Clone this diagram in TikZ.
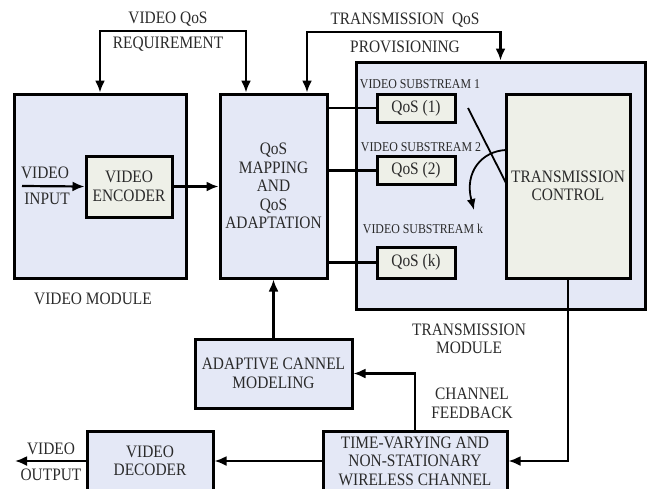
\documentclass[tikz,border=0pt]{standalone}
\usepackage{fontspec}
\setmainfont{Liberation Serif}[FakeStretch=0.88]
\usetikzlibrary{arrows.meta}
\definecolor{blu}{HTML}{E4E8F6}
\definecolor{grn}{HTML}{EEF0E8}
\definecolor{txt}{HTML}{2A2A2A}
\tikzset{
  every node/.style={text=txt, font=\fontsize{17.5}{18.5}\selectfont},
  blk/.style={draw=black, line width=3pt, fill=blu, inner sep=0pt, align=center},
  inr/.style={draw=black, line width=3pt, fill=grn, inner sep=0pt, align=center},
  lbl/.style={inner sep=0pt, align=center},
  sml/.style={inner sep=0pt, font=\fontsize{13.5}{15}\selectfont},
  wire/.style={draw=black, line width=2.2pt},
  arr/.style={wire, -{Latex[length=12pt,width=10pt]}}
}
\begin{document}
\begin{tikzpicture}[x=1pt,y=-1pt]
\useasboundingbox (0,0) rectangle (648,488);
% boxes
\node[blk, minimum width=172pt, minimum height=184pt] (vm) at (100,186) {};
\node[inr, minimum width=86pt, minimum height=61pt] (enc) at (129,186.5) {VIDEO\\ENCODER};
\node[blk, minimum width=107pt, minimum height=184pt] (qm) at (273.5,186) {QoS\\MAPPING\\AND\\QoS\\ADAPTATION};
\node[blk, minimum width=289pt, minimum height=247pt] (tm) at (500.5,185.5) {};
\node[inr, minimum width=124pt, minimum height=184pt] (tc) at (568,186) {TRANSMISSION\\CONTROL};
\node[inr, minimum width=78pt, minimum height=28pt] (q1) at (416,108) {QoS (1)};
\node[inr, minimum width=78pt, minimum height=28pt] (q2) at (416,170.5) {QoS (2)};
\node[inr, minimum width=78pt, minimum height=31pt] (qk) at (416,262.5) {QoS (k)};
\node[blk, minimum width=157pt, minimum height=69pt] (acm) at (273.5,373.5) {ADAPTIVE CANNEL\\MODELING};
\node[blk, minimum width=184pt, minimum height=60pt] (wc) at (415,461) {TIME-VARYING AND\\NON-STATIONARY\\WIRELESS CHANNEL};
\node[blk, minimum width=126pt, minimum height=60pt] (dec) at (150,461) {VIDEO\\DECODER};
% labels
\node[lbl] (l1) at (168,19) {VIDEO QoS};
\node[lbl] (l2) at (168,44) {REQUIREMENT};
\node[lbl] (l3) at (405,20) {TRANSMISSION\ \ QoS};
\node[lbl] (l4) at (405,47) {PROVISIONING};
\node[lbl] (l5) at (45,173) {VIDEO};
\node[lbl] (l6) at (47,199) {INPUT};
\node[lbl] (l7) at (93,299) {VIDEO MODULE};
\node[sml] (s1) at (420,84) {VIDEO SUBSTREAM 1};
\node[sml] (s2) at (421,147) {VIDEO SUBSTREAM 2};
\node[sml] (sk) at (423,229) {VIDEO SUBSTREAM k};
\node[lbl] (l8) at (469,339) {TRANSMISSION\\MODULE};
\node[lbl] (l9) at (472,403.5) {CHANNEL\\FEEDBACK};
\node[lbl] (l10) at (51,449) {VIDEO};
\node[lbl] (l11) at (51,475) {OUTPUT};
% coordinates
\coordinate (vin) at (22,186);
\coordinate (vout) at (15,461);
\coordinate (vq) at (173,31);
\coordinate (tq) at (404,32);
\coordinate (d1) at (468,108);
\coordinate (d2) at (506,183);
\coordinate (c1) at (506,150);
\coordinate (c2) at (474,210);
% connectors
\draw[arr] (vin) -- (enc.west);
\draw[arr] (enc.east) -- (qm.west |- enc.east);
\draw[arr] (vq) -| (vm.north);
\draw[arr] (vq) -| ([xshift=-27.5pt]qm.north);
\draw[arr] (tq) -| (tm.north);
\draw[arr] (tq) -| ([xshift=33.5pt]qm.north);
\draw[wire] (qm.east |- q1.west) -- (q1.west);
\draw[wire] (qm.east |- q2.west) -- (q2.west);
\draw[wire] (qm.east |- qk.west) -- (qk.west);
\draw[wire, line width=1.8pt] (d1) -- (d2);
\draw[wire, line width=1.8pt, -{Latex[length=11pt,width=9pt]}] (c1) .. controls (482,151) and (464,172) .. (c2);
\draw[arr] (acm.north) -- (qm.south);
\draw[arr] (tc.south) |- (wc.east);
\draw[arr] (wc.north) |- (acm.east);
\draw[arr] (wc.west) -- (dec.east);
\draw[arr] (dec.west) -- (vout);
\end{tikzpicture}
\end{document}
